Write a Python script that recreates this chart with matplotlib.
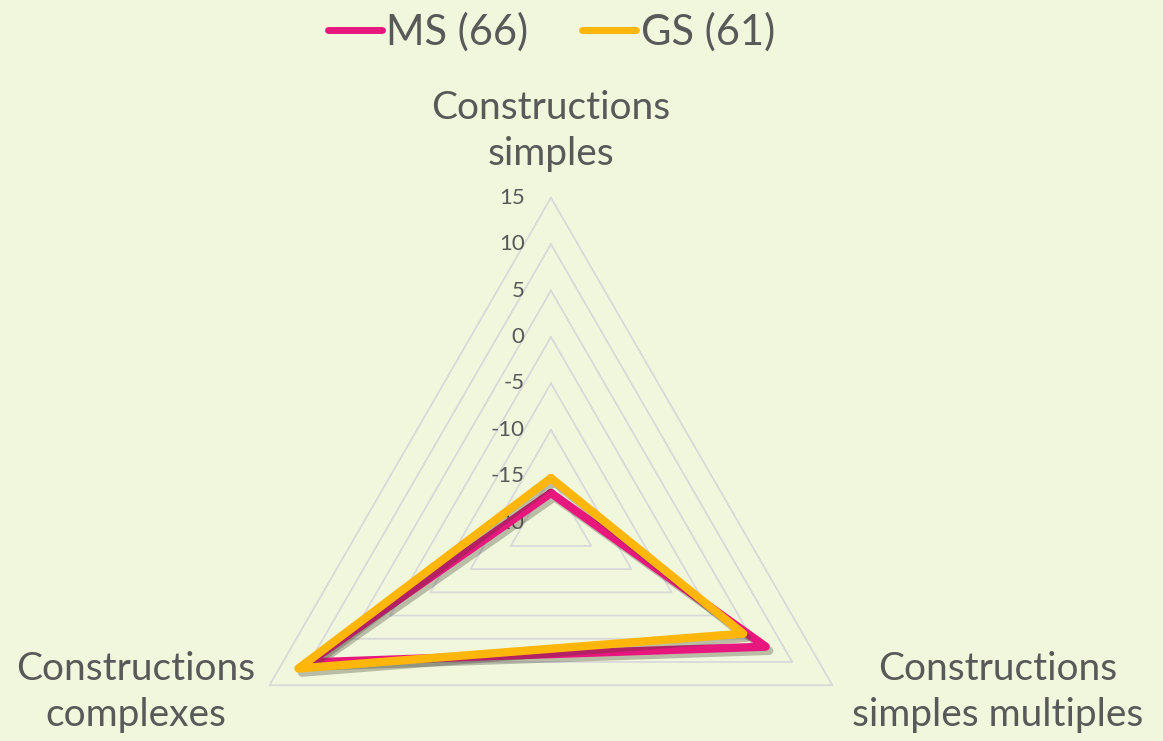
import numpy as np
import matplotlib
matplotlib.use("Agg")
import matplotlib.pyplot as plt
import matplotlib.patheffects as pe

# valeurs
categories = ["Constructions\nsimples", "Constructions\nsimples multiples", "Constructions\ncomplexes"]
series_names = ["MS (66)", "GS (61)"]
ms_values = [-16.8, 6.7, 10.1]
gs_values = [-15.2, 3.9, 11.4]
r_ticks = [-20, -15, -10, -5, 0, 5, 10, 15]

BG = "#F1F7DC"
TXT = "#595959"
GRID = "#D9D9D9"
PINK = "#E8177E"
GOLD = "#FFB60A"

plt.rcParams['font.family'] = ['Lato', 'DejaVu Sans']

fig = plt.figure(figsize=(11.63, 7.41), dpi=100, facecolor=BG)
# centre du radar vers (551, 523) px, rayon 325 px
ax = fig.add_axes([0.1943, -0.144, 0.5589, 0.8772], projection="polar")
ax.set_facecolor("none")
ax.set_theta_zero_location("N")
ax.set_theta_direction(-1)
ax.set_ylim(r_ticks[0], r_ticks[-1])
ax.grid(False)
ax.spines["polar"].set_visible(False)
ax.set_xticks([])
ax.set_yticks([])

theta = np.deg2rad([0, 120, 240, 0])

# grille triangulaire
for r in r_ticks[1:]:
    ax.plot(theta, [r] * 4, color=GRID, lw=1.3, zorder=1, clip_on=False)

# étiquettes de l'axe radial (sous les courbes)
for r in r_ticks:
    ax.annotate(str(r), xy=(0, r), xytext=(-19, 0), textcoords="offset points",
                ha="right", va="center", fontsize=16, color=TXT, zorder=2)

shadow = [pe.SimpleLineShadow(offset=(2.5, -3), shadow_color="#3a3a2a", alpha=0.3), pe.Normal()]
l1, = ax.plot(theta, ms_values + ms_values[:1], color=PINK, lw=6, solid_joinstyle="round",
              solid_capstyle="round", path_effects=shadow, zorder=3, clip_on=False)
l2, = ax.plot(theta, gs_values + gs_values[:1], color=GOLD, lw=6, solid_joinstyle="round",
              solid_capstyle="round", path_effects=shadow, zorder=4, clip_on=False)

# noms des axes
lab = dict(ha="center", va="center", fontsize=28, color=TXT, linespacing=1.35)
fig.text(0.4738, 0.823, categories[0], **lab)
fig.text(0.858, 0.066, categories[1], **lab)
fig.text(0.117, 0.066, categories[2], **lab)

leg = fig.legend([l1, l2], series_names, loc="center", bbox_to_anchor=(0.474, 0.957),
                 ncol=2, frameon=False, fontsize=30, handlelength=1.3, handletextpad=0.1,
                 columnspacing=1.3, labelcolor=TXT)
for h in leg.legend_handles:
    h.set_path_effects([])
    h.set_linewidth(5)
    h.set_solid_capstyle("round")

fig.savefig("out.png", dpi=100, facecolor=BG)
